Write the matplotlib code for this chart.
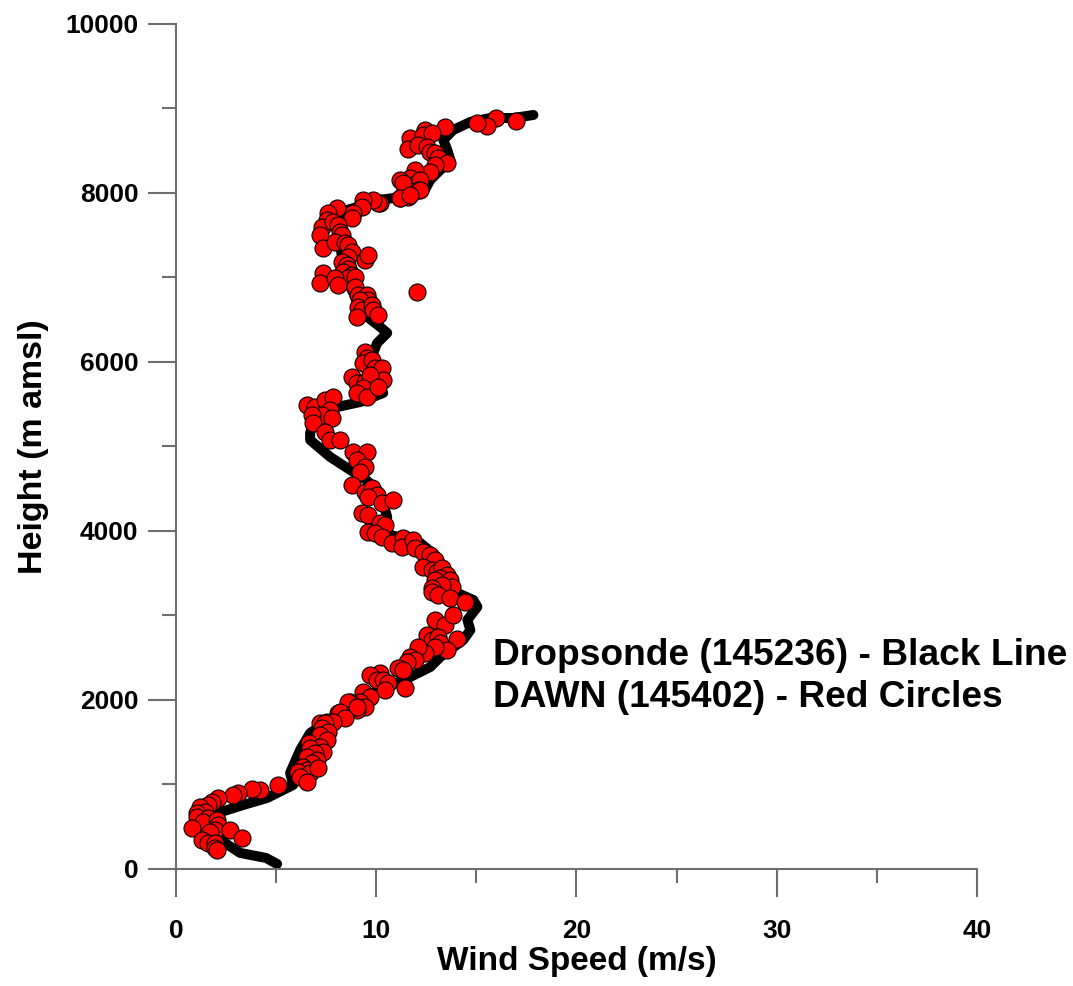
import matplotlib
matplotlib.use("Agg")
import matplotlib.pyplot as plt
from matplotlib.ticker import MultipleLocator

plt.rcParams['font.family'] = ['Liberation Sans', 'DejaVu Sans']
plt.rcParams['font.weight'] = 'bold'

# Dropsonde (black line): wind speed (m/s) vs height (m)
sonde_ws = [5.05, 4.5, 3.2, 2.6, 2.1, 1.8, 1.7, 2.1, 3.35, 4.55, 5.85, 5.7, 6.2, 6.7,
            7.6, 8.55, 8.9, 9.85, 11.7, 12.7, 13.2, 14.35, 14.7, 14.55, 15.05, 14.85,
            14.05, 13.2, 13.05, 12.2, 10.35, 10.35, 10.55, 10.2, 9.5, 8.7, 7.7, 6.7,
            6.7, 6.9, 7.3, 8.05, 9.2, 10.35, 10.05, 9.85, 10.05, 10.55, 10.2, 9.55,
            9.2, 8.7, 8.35, 8.2, 8.0, 8.55, 10.2, 11.2, 12.35, 12.7, 13.2, 13.7,
            13.55, 13.35, 13.85, 14.7, 15.7, 16.85, 17.85]
sonde_h = [59, 130, 190, 284, 367, 480, 600, 663, 757, 840, 994, 1136, 1408, 1609,
           1750, 1846, 1950, 2083, 2272, 2390, 2509, 2710, 2828, 2947, 3101, 3183,
           3266, 3621, 3692, 3858, 3976, 4095, 4166, 4450, 4604, 4722, 4876, 5077,
           5160, 5300, 5420, 5467, 5526, 5633, 5787, 6107, 6225, 6343, 6414, 6533,
           6651, 6888, 7124, 7400, 7650, 7799, 7917, 7953, 8000, 8154, 8272, 8391,
           8509, 8627, 8746, 8840, 8887, 8887, 8923]

# DAWN (red circles)
dawn_ws = [17.0, 16.0, 15.55, 15.05, 13.45, 12.45, 11.7, 11.6, 12.35, 12.8, 12.1, 12.55,
           12.7, 12.95, 13.1, 13.55, 12.95, 12.7, 11.95, 11.7, 11.2, 11.45, 11.85, 12.2,
           12.1, 11.6, 11.2, 10.2, 11.35, 12.2, 11.2, 11.7,
           10.1, 9.85, 9.35, 9.3, 8.85, 8.8, 8.05, 7.6, 7.55, 7.3, 7.2, 7.35, 7.85, 8.1,
           8.2, 8.3, 7.95, 8.45, 8.6, 8.8, 8.6, 8.3, 8.55, 8.6, 8.35, 8.8, 8.6, 8.95,
           9.45, 9.6, 7.35, 7.2, 7.95, 8.1, 12.05, 8.95, 9.1, 9.55, 9.6, 9.2, 9.1, 9.3,
           9.8, 9.85, 10.1, 9.05,
           9.45, 9.55, 9.35, 9.8, 9.95, 10.3, 10.35, 8.8, 9.05, 9.45, 9.7, 9.35, 9.05,
           9.55, 10.1,
           6.55, 6.95, 7.45, 7.85, 7.7, 7.3, 6.8, 6.85, 7.8, 7.45, 7.7, 8.2, 8.85, 9.55,
           9.05, 9.45, 9.2,
           8.8, 9.45, 9.8, 10.05, 9.6, 10.3, 10.85, 9.3, 9.6, 10.2, 10.45, 9.6, 9.95,
           10.3, 10.8, 11.35, 11.3, 11.85, 11.95, 12.35, 12.7, 12.95, 12.35, 12.8, 13.05,
           13.3, 13.55, 13.2, 12.95, 13.7, 13.8, 13.3, 12.8, 12.8, 13.1, 13.7, 14.45,
           12.95, 13.45, 13.85, 14.05, 12.55, 12.8, 13.1, 13.2, 13.55, 12.95, 12.45,
           12.1, 11.7, 11.95, 11.55, 11.1, 11.35, 10.2, 9.7, 10.05, 10.35, 10.6, 10.45,
           11.45, 9.35, 9.7, 9.2, 8.7, 9.45, 9.05, 8.55, 8.1, 8.35, 7.55, 7.2,
           8.6, 9.05, 8.2, 8.45, 7.85, 7.45, 7.3, 7.6, 7.2, 7.55, 6.65, 7.2, 6.7, 7.35,
           6.95, 6.55, 7.05, 6.8, 6.35, 6.55, 6.1, 6.7, 7.1, 6.2, 6.55, 5.1, 4.2, 3.8,
           3.1, 2.85, 2.1, 1.8, 1.6, 1.2, 1.45, 1.05, 1.05, 1.6, 1.35, 2.05, 2.1, 0.8,
           1.95, 1.7, 2.7, 3.3, 1.3, 1.6, 1.95, 1.95, 2.05]
dawn_h = [8852, 8887, 8793, 8828, 8781, 8746, 8651, 8520, 8686, 8710, 8568, 8544,
          8485, 8473, 8414, 8355, 8331, 8248, 8272, 8177, 8154, 8059, 8095, 8154,
          8035, 7953, 7941, 7882, 8118, 8035, 7941, 7976,
          7882, 7917, 7917, 7834, 7763, 7704, 7822, 7763, 7680, 7597, 7503, 7349, 7657, 7621,
          7538, 7503, 7420, 7408, 7384, 7302, 7243, 7183, 7148, 7101, 7065, 7030, 6994, 7006,
          7207, 7266, 7053, 6935, 6994, 6911, 6828, 6888, 6793, 6793, 6734, 6734, 6651, 6615,
          6675, 6615, 6556, 6533,
          6118, 6047, 5988, 6023, 5929, 5929, 5787, 5822, 5751, 5763, 5846, 5692, 5633,
          5586, 5704,
          5491, 5467, 5550, 5586, 5432, 5373, 5373, 5278, 5337, 5172, 5077, 5077, 4935, 4935,
          4840, 4757, 4698,
          4544, 4462, 4509, 4426, 4402, 4331, 4367, 4213, 4189, 4095, 4071, 3988, 3976,
          3929, 3858, 3917, 3811, 3893, 3799, 3751, 3716, 3657, 3574, 3538, 3515,
          3562, 3479, 3444, 3420, 3420, 3337, 3361, 3325, 3278, 3243, 3207, 3160,
          2947, 2887, 3006, 2722, 2769, 2710, 2746, 2675, 2592, 2627, 2556,
          2627, 2509, 2473, 2450, 2379, 2355, 2320, 2296, 2237, 2237, 2201, 2118,
          2142, 2095, 2035, 1976, 1976, 1917, 1882, 1858, 1846, 1799, 1740, 1728,
          1976, 1917, 1858, 1787, 1740, 1728, 1669, 1621, 1586, 1527, 1491, 1444, 1432, 1385,
          1373, 1325, 1290, 1254, 1207, 1172, 1148, 1136, 1195, 1089, 1030, 994, 935, 947,
          899, 876, 840, 793, 757, 734, 675, 663, 615, 604, 556, 580, 521, 485,
          462, 438, 462, 367, 343, 308, 308, 249, 225]

x_ticks = [0, 10, 20, 30, 40]
y_ticks = [0, 2000, 4000, 6000, 8000, 10000]
x_label = "Wind Speed (m/s)"
y_label = "Height (m amsl)"
note_lines = ["Dropsonde (145236) - Black Line", "DAWN (145402) - Red Circles"]

fig = plt.figure(figsize=(10.73, 9.86), dpi=100)
ax = fig.add_axes([0.164, 0.1187, 0.7465, 0.857])

ax.plot(sonde_ws, sonde_h, color='black', lw=7.2, solid_capstyle='round',
        solid_joinstyle='round', zorder=2)
ax.scatter(dawn_ws, dawn_h, s=150, facecolor='#ff0000', edgecolor='black',
           linewidth=0.8, zorder=3)

ax.set_xlim(0, 40)
ax.set_ylim(0, 10000)
ax.set_xticks(x_ticks)
ax.set_yticks(y_ticks)
ax.xaxis.set_minor_locator(MultipleLocator(5))
ax.yaxis.set_minor_locator(MultipleLocator(1000))

spine_col = '#6e6e6e'
for s in ['top', 'right']:
    ax.spines[s].set_visible(False)
for s in ['left', 'bottom']:
    ax.spines[s].set_color(spine_col)
    ax.spines[s].set_linewidth(1.5)

ax.tick_params(axis='both', which='major', direction='out', length=20, width=1.5,
               color=spine_col, labelsize=19)
ax.tick_params(axis='both', which='minor', direction='out', length=10, width=1.5,
               color=spine_col)
ax.tick_params(axis='x', which='major', pad=16)
ax.tick_params(axis='y', which='major', pad=7)
for lab in ax.get_xticklabels() + ax.get_yticklabels():
    lab.set_fontweight('bold')

ax.set_xlabel(x_label, fontsize=24, fontweight='bold', labelpad=2)
ax.set_ylabel(y_label, fontsize=24.5, fontweight='bold', labelpad=12)

ax.text(15.85, 2532, note_lines[0], fontsize=26.7, fontweight='bold', va='center', ha='left')
ax.text(15.85, 2035, note_lines[1], fontsize=26.7, fontweight='bold', va='center', ha='left')

fig.savefig('out.png', dpi=100)
